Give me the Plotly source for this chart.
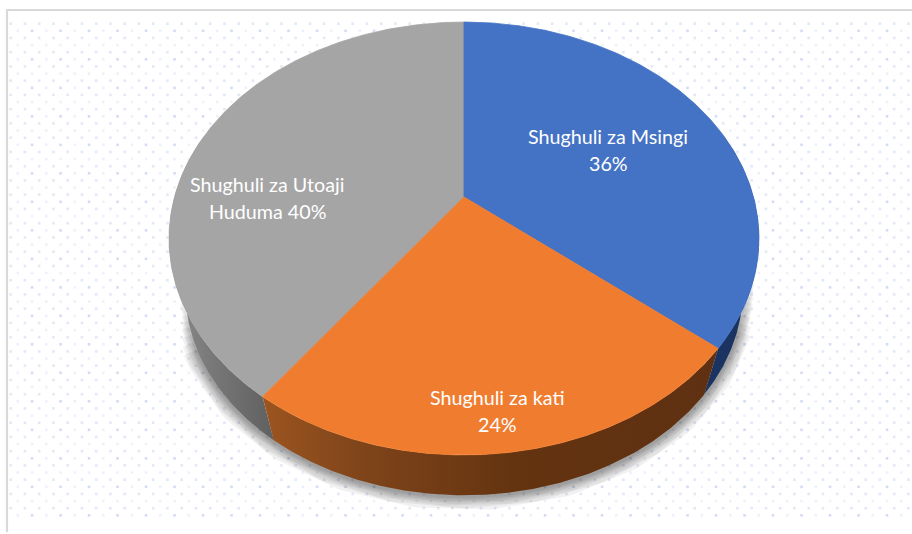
import numpy as np
import plotly.graph_objects as go

categories = ["Shughuli za Msingi", "Shughuli za kati", "Shughuli za Utoaji Huduma"]
values = [36, 24, 40]
label_lines = [
    ["Shughuli za Msingi", "36%"],
    ["Shughuli za kati", "24%"],
    ["Shughuli za Utoaji", "Huduma 40%"],
]

WIDTH, HEIGHT = 912, 534
TOP_FACE = ["#4472C4", "#F07D2F", "#A5A5A5"]
SIDE_GRAD = [
    [[0, "#1A3360"], [1, "#1A3360"]],
    [[0, "#9B5520"], [0.22, "#7F441A"], [0.55, "#643410"], [1, "#5F3012"]],
    [[0, "#8C8C8C"], [0.5, "#747474"], [1, "#606060"]],
]
APEX_X, APEX_Y = 464, 197
A, B, K = 289.5, 208.5, 0.1917       # projection of the tilted disc
BOTTOM_Y, BOTTOM_S = 251.5, 0.945    # extruded lower rim


def project(theta, level="top"):
    px = A * np.sin(theta) / (1 + K * np.cos(theta))
    py = -B * np.cos(theta) / (1 + K * np.cos(theta))
    if level == "top":
        return APEX_X + px, APEX_Y + py
    return APEX_X + BOTTOM_S * px, BOTTOM_Y + BOTTOM_S * py


fig = go.Figure()

# Dotted chart-area texture (decorative)
PITCH_X, PITCH_Y = 14.25, 7.125
strong, mid, faint = "#D3DDF2", "#E2E8F6", "#EEF1F9"
groups = {strong: ([], []), mid: ([], []), faint: ([], [])}
for r in range(70):
    y = 23.7 + r * PITCH_Y
    kind = r % 4
    x0 = 10.7 if kind in (0, 2) else 17.8
    for c in range(66):
        x = x0 + c * PITCH_X
        if kind in (0, 2):
            col = mid
        elif kind == 1:
            col = strong if c % 2 else faint
        else:
            col = faint
        groups[col][0].append(x)
        groups[col][1].append(y)
for col, (xs, ys) in groups.items():
    fig.add_trace(go.Scatter(x=xs, y=ys, mode="markers", hoverinfo="skip",
                             marker=dict(symbol="square", size=2.6, color=col, line_width=0)))

# Soft drop shadow along the outer silhouette
CX, CY = 464, 245
tt = np.linspace(0, 2 * np.pi, 1441)
def rim_radius(level, phi):
    x, y = project(tt, level)
    ang = np.arctan2(y - CY, x - CX)
    rad = np.hypot(x - CX, y - CY)
    order = np.argsort(ang)
    return np.interp(np.arctan2(np.sin(phi), np.cos(phi)), ang[order], rad[order], period=2 * np.pi)
for w in (28, 24, 20, 16, 13, 10, 7, 4):
    phi = np.radians(np.linspace(6 + w * 0.4, 170 - w * 0.4, 200))
    rad = np.maximum(rim_radius("top", phi), rim_radius("bottom", phi))
    sx, sy = CX + rad * np.cos(phi), CY + rad * np.sin(phi) + 1
    fig.add_trace(go.Scatter(x=sx, y=sy, mode="lines", hoverinfo="skip",
                             line=dict(color="rgba(0,0,0,0.055)", width=w)))

# Slices
edges = np.cumsum([0] + values) / sum(values) * 2 * np.pi
for i in [2, 0, 1]:
    a0, a1 = edges[i], edges[i + 1]
    w0, w1 = max(a0, np.pi * 0.40), min(a1, np.pi * 1.60)
    t = np.linspace(w0, w1, 160)
    xt, yt = project(t, "top")
    xb, yb = project(t[::-1], "bottom")
    fig.add_trace(go.Scatter(
        x=np.r_[xt, xb], y=np.r_[yt, yb], mode="lines", fill="toself",
        line=dict(width=0), hoverinfo="skip",
        fillgradient=dict(type="horizontal", colorscale=SIDE_GRAD[i]),
    ))
for i in [2, 0, 1]:
    t = np.linspace(edges[i], edges[i + 1], 240)
    x, y = project(t)
    fig.add_trace(go.Scatter(
        x=np.r_[APEX_X, x, APEX_X], y=np.r_[APEX_Y, y, APEX_Y], mode="lines",
        fill="toself", fillcolor=TOP_FACE[i], line=dict(width=0.8, color=TOP_FACE[i]),
        name=categories[i], hoverinfo="skip",
    ))

# Data labels
label_pos = [[(608, 136), (608, 163)], [(497, 397), (497, 424)], [(267, 184), (267, 211)]]
for lines, pos in zip(label_lines, label_pos):
    for txt, (x, y) in zip(lines, pos):
        fig.add_annotation(x=x, y=y, text=txt, showarrow=False, xanchor="center", yanchor="middle",
                           font=dict(family="Lato", size=19.7, color="#FFFFFF"))

frame = "#D9D9D9"
fig.update_layout(
    width=WIDTH, height=HEIGHT, autosize=False, showlegend=False,
    margin=dict(l=0, r=0, t=0, b=0),
    paper_bgcolor="white", plot_bgcolor="white",
    xaxis=dict(range=[0, WIDTH], visible=False, fixedrange=True),
    yaxis=dict(range=[HEIGHT, 0], visible=False, fixedrange=True),
    shapes=[
        dict(type="line", x0=7, x1=7, y0=10, y1=532, line=dict(color=frame, width=2.2)),
        dict(type="line", x0=6, x1=912, y0=10, y1=10, line=dict(color=frame, width=2.2)),
    ],
)
fig.write_html("out.html", config={"displayModeBar": False},
               post_script="document.body.style.margin='0';document.documentElement.style.overflow='hidden';")
